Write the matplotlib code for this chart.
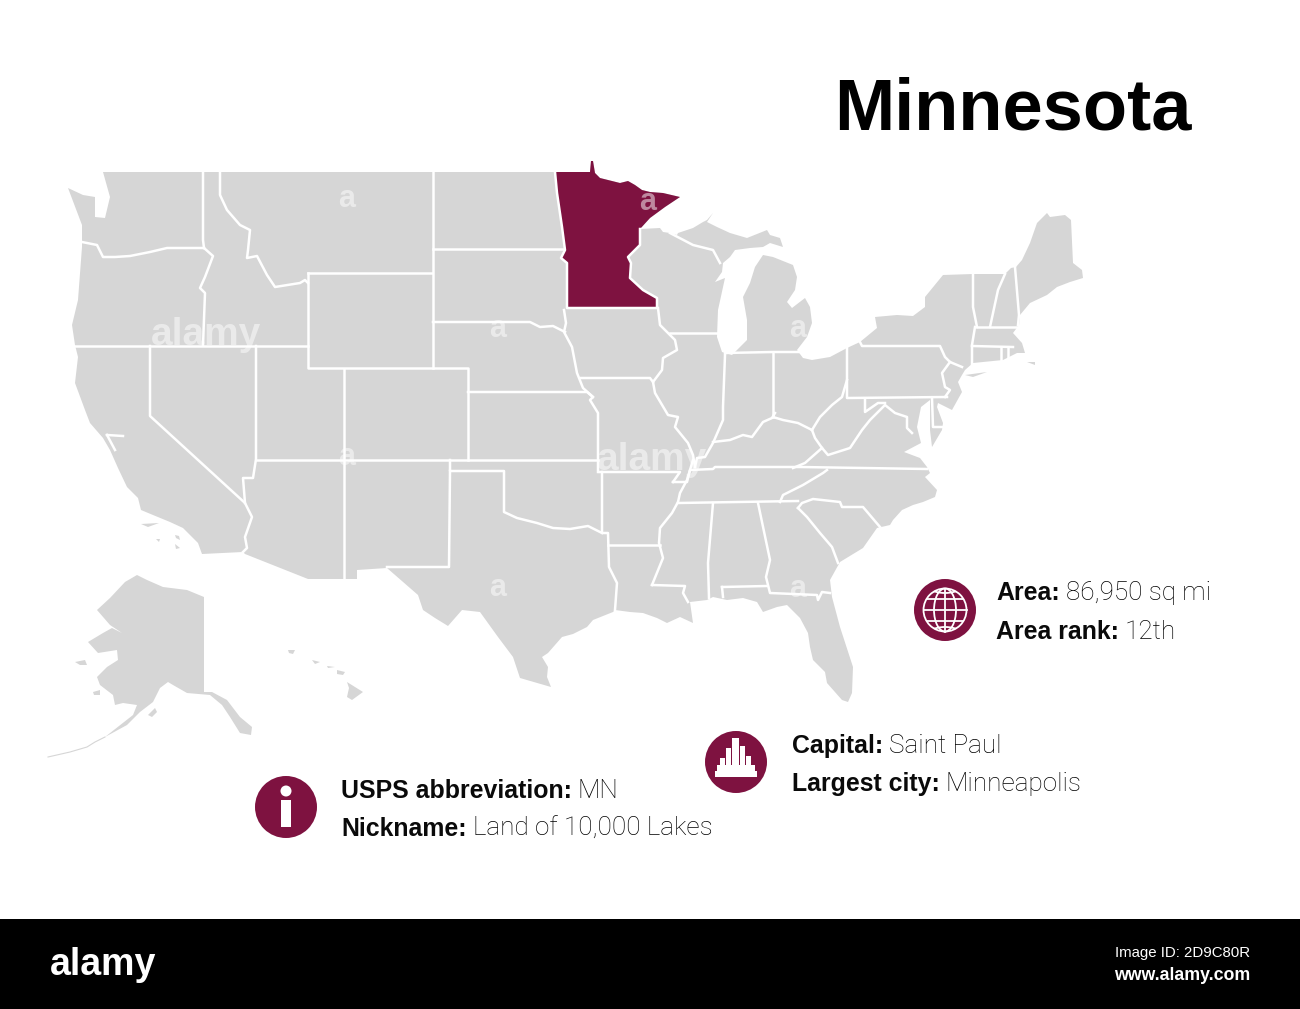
import matplotlib
matplotlib.use("Agg")
import matplotlib.pyplot as plt
from matplotlib.patches import Circle, Ellipse, Polygon, Rectangle

GRAY = "#d6d6d6"
MAROON = "#7e1240"

US_OUTLINE = [(103,172),(555,172),(590,172),(591,161),(593,161),(595,173),(600,178),(612,181),(620,183),(628,181),
 (635,185),(642,190),(650,192),(663,193),(680,197),(665,207),(650,218),(640,229),(660,228),(663,232),(670,233),(677,235),
 (678,233),(693,228),(703,222),(707,220),(713,213),(707,222),(717,227),(730,233),(747,238),(767,230),(770,235),(780,238),(783,247),
 (770,243),(763,247),(750,248),(735,250),(730,257),(723,263),(722,272),(715,282),(725,278),(718,310),(717,337),(722,352),
 (732,355),(747,340),(747,320),(743,297),(750,283),(755,267),(763,255),(773,257),(793,265),(797,277),(795,290),(787,302),(792,308),
 (805,298),(810,307),(812,323),(807,337),(797,350),(803,358),(812,360),(830,357),(847,348),(860,342),(877,328),(875,317),(897,315),
 (913,316),(925,307),(925,297),(943,275),(973,274),(1005,274),(1011,268),(1016,267),(1022,260),(1030,243),(1037,223),(1047,213),
 (1050,217),(1065,215),(1071,220),(1073,263),(1082,270),(1083,278),(1070,282),(1057,287),(1047,295),(1030,303),(1020,315),(1019,325),
 (1013,333),(1022,343),(1025,353),(1017,353),(1003,360),(973,363),(965,370),(962,375),(958,382),(962,392),(952,410),(938,403),(937,407),
 (943,423),(942,430),(932,447),(930,430),(930,400),(921,407),(917,427),(921,443),(904,452),(920,458),(927,467),(930,473),(925,477),
 (937,490),(935,497),(923,502),(913,505),(902,510),(893,520),(890,525),(877,528),(863,548),(840,562),(830,580),(832,597),(840,627),
 (853,667),(852,693),(848,702),(842,700),(827,683),(825,672),(813,660),(810,647),(808,633),(800,618),(787,605),(777,607),(763,612),
 (757,602),(743,598),(727,600),(713,597),(707,600),(690,602),(693,623),(680,617),(667,623),(657,618),(643,613),(630,612),(615,610),
 (613,612),(593,620),(587,627),(573,634),(562,637),(548,653),(542,657),(548,667),(547,677),(551,687),(520,678),(513,657),(498,637),
 (480,612),(462,610),(448,626),(435,618),(423,610),(418,595),(387,568),(357,570),(357,579),(308,579),(245,554),(243,552),(202,554),
 (198,543),(183,528),(170,522),(153,515),(141,510),(138,498),(127,487),(118,468),(110,450),(103,438),(90,423),(85,410),
 (75,383),(78,357),(75,345),(72,325),(78,300),(82,247),(82,225),(68,188),(83,195),(95,197),(95,217),(105,218),(110,197)]

MINNESOTA = [(555,172),(590,172),(591,161),(593,161),(595,173),(600,178),(612,181),(620,183),(628,181),(635,185),(642,190),
 (650,192),(663,193),(680,197),(665,207),(650,218),(640,229),(640,245),(628,257),(631,263),(630,278),(643,290),(657,298),(657,308),
 (567,308),(567,263),(561,258),(565,250),(562,227),(557,193)]

ISLANDS = [
 [(965,375),(987,372),(973,377)],
 [(1027,362),(1035,362),(1035,365)],
 [(141,524),(159,523),(148,527)],
 [(156,539),(160,539),(159,542)],
 [(175,535),(179,536),(180,540),(176,538)],
 [(175,544),(180,548),(176,549)],
 [(347,682),(363,692),(352,700),(347,697),(349,688)],
 [(337,670),(345,672),(343,675),(337,674)],
 [(327,666),(335,667),(328,668)],
 [(312,660),(320,662),(315,664)],
 [(288,650),(295,650),(293,654),(289,653)],
 [(75,662),(85,660),(87,665),(80,665)],
 [(148,715),(155,708),(157,712),(152,717)],
 [(93,692),(100,690),(100,695),(94,695)],
]

ALASKA = [(137,575),(147,580),(163,587),(187,590),(204,597),(204,692),(212,692),(227,700),(240,717),(252,727),(251,735),(240,733),
 (230,717),(222,705),(210,695),(187,693),(173,685),(168,682),(160,688),(153,702),(140,712),(127,725),(105,737),(133,715),(137,705),
 (123,703),(115,705),(113,695),(100,685),(97,677),(107,667),(118,660),(117,650),(98,653),(88,642),(103,633),(112,628),(122,633),
 (110,625),(97,610),(110,598),(125,582)]
ALEUTIANS = [(105,737),(95,742),(87,747),(70,752),(48,757)]

BORDERS = [
 [(203,172),(203,240),(204,248)],
 [(82,242),(97,245),(103,257),(115,257),(130,256),(150,252),(167,248),(204,248)],
 [(204,248),(213,256),(205,277),(200,288),(205,293),(203,345)],
 [(75,346),(308,346)],
 [(150,346),(150,416),(245,503),(252,517),(245,537),(247,548),(243,552)],
 [(245,503),(243,478),(253,478),(256,459),(256,346)],
 [(256,460),(598,460)],
 [(344,369),(344,579)],
 [(308,273),(432,273)],
 [(308,273),(308,368),(468,368),(468,460)],
 [(220,172),(220,195),(227,210),(240,225),(250,230),(248,250),(247,258),(257,256),(267,275),(275,287),(300,283),(305,280),(308,283)],
 [(433,172),(433,368)],
 [(433,249),(563,249)],
 [(433,322),(530,322),(540,327),(553,326),(565,332)],
 [(468,392),(587,392),(593,397),(590,400),(598,413),(598,472)],
 [(564,310),(566,323),(564,332),(572,347),(577,373),(583,388),(593,397)],
 [(580,378),(650,378),(653,382)],
 [(658,308),(660,325),(675,340),(677,350),(663,358),(662,370),(653,382),(655,393),(668,415),(678,417),(675,427),(688,443),(693,455),(695,467)],
 [(670,333),(718,333)],
 [(725,355),(723,407),(723,420),(713,443),(705,457),(697,458),(695,467)],
 [(713,442),(730,440),(743,435),(752,437),(763,422),(772,418),(775,413)],
 [(773,353),(773,417)],
 [(725,353),(773,352),(800,352)],
 [(773,417),(783,420),(798,423),(812,430)],
 [(812,430),(820,417),(832,405),(842,397),(847,380)],
 [(847,348),(847,398),(947,397)],
 [(860,342),(862,346),(940,346),(945,357),(950,362),(962,367)],
 [(950,362),(942,373),(945,387),(950,390),(945,397)],
 [(973,274),(973,307),(977,327)],
 [(975,327),(972,345),(972,365)],
 [(1005,274),(998,290),(990,327)],
 [(1015,267),(1019,315),(1018,325)],
 [(977,327),(1018,327)],
 [(972,346),(1013,347)],
 [(1001,347),(1001,360)],
 [(1008,347),(1008,358)],
 [(865,400),(865,412),(878,403),(885,403)],
 [(812,430),(815,438),(822,448),(828,455),(850,448),(862,430),(870,420),(880,410),(885,405),(895,413),(907,417),(907,428),(912,433)],
 [(822,448),(805,463),(793,468)],
 [(673,482),(687,482),(690,470),(713,469),(715,467),(800,467),(927,469)],
 [(693,460),(687,480),(680,493),(678,502),(672,513),(660,528),(659,543),(663,558),(652,585)],
 [(600,472),(680,472),(673,482)],
 [(602,472),(602,533),(608,533),(609,567),(617,583),(615,610)],
 [(608,545),(660,545)],
 [(450,460),(450,471),(504,471),(504,512),(517,518),(537,523),(553,528),(570,529),(588,526),(602,533)],
 [(450,471),(449,567),(387,567)],
 [(827,470),(823,473),(803,485),(783,495),(780,502)],
 [(678,503),(798,501)],
 [(798,508),(802,503),(813,499),(840,502),(842,507),(863,507),(880,527)],
 [(798,508),(807,517),(820,533),(832,547),(838,563)],
 [(713,503),(708,563),(709,598)],
 [(758,503),(770,560),(766,577),(770,593),(817,595),(818,600),(822,592),(830,593)],
 [(722,587),(767,586)],
 [(722,587),(723,597)],
 [(652,585),(685,586),(683,593),(688,602)],
 [(670,233),(693,245),(713,250),(720,263)],
 [(932,398),(933,427),(943,427)],
 [(107,435),(123,436)],
 [(107,435),(115,450)],
 [(555,172),(557,193),(562,227),(565,250),(561,258),(567,263),(567,308),(657,308),(657,298),(643,290),(630,278),(631,263),(628,257),(640,245),(640,229)],
]

TITLE = "Minnesota"
INFO = [
 ("Area:", "86,950 sq mi", 996, 600),
 ("Area rank:", "12th", 996, 639),
 ("Capital:", "Saint Paul", 792, 753),
 ("Largest city:", "Minneapolis", 792, 791),
 ("USPS abbreviation:", "MN", 341, 798),
 ("Nickname:", "Land of 10,000 Lakes", 341, 836),
]
MARK_WORD = "alamy"
MARK_BIG = [(206,345),(652,470)]
MARK_SMALL = [(347,207),(498,337),(347,465),(498,596),(648,210),(798,337),(798,597)]
SKYLINE = [(-21,9,42,6),(-19,3,38,7),(-16,-4,5,8),(-10,-14,5,18),(-4,-24,7,28),(4,-16,5,20),(10,-6,5,10)]

fig = plt.figure(figsize=(13.0,10.09), dpi=100, facecolor="white")
ax = fig.add_axes([0,0,1,1])
ax.set_xlim(0,1300); ax.set_ylim(1009,0); ax.axis("off")

ax.add_patch(Polygon(US_OUTLINE, closed=True, fc=GRAY, ec="none", zorder=1))
ax.add_patch(Polygon(ALASKA, closed=True, fc=GRAY, ec="none", zorder=1))
for isl in ISLANDS:
    ax.add_patch(Polygon(isl, closed=True, fc=GRAY, ec="none", zorder=1))
ax.plot(*zip(*ALEUTIANS), color=GRAY, lw=0.8, zorder=1)
ax.add_patch(Polygon(MINNESOTA, closed=True, fc=MAROON, ec="none", zorder=2))
for b in BORDERS:
    ax.plot(*zip(*b), color="white", lw=1.8, solid_joinstyle="round", zorder=3)

sans = "Liberation Sans"
for x,y in MARK_BIG:
    ax.text(x,y,MARK_WORD,ha="center",va="baseline",family=sans,weight="bold",fontsize=28,color="white",alpha=.5,zorder=4)
for x,y in MARK_SMALL:
    ax.text(x,y,"a",ha="center",va="baseline",family=sans,weight="bold",fontsize=22,color="white",alpha=.5,zorder=4)

ax.text(834,130,TITLE,family=sans,weight="bold",fontsize=52,color="black",va="baseline",ha="left",zorder=5)

fig.canvas.draw()
rend = fig.canvas.get_renderer()
for lab,val,x,y in INFO:
    t = ax.text(x,y,lab,family=sans,weight="bold",fontsize=17.9,color="#0a0a0a",va="baseline",ha="left",zorder=5)
    w = t.get_window_extent(rend).width
    ax.text(x+w+6,y,val,family="Roboto",weight="light",fontsize=18.8,color="black",va="baseline",ha="left",zorder=5)

# Icons
globe = Circle((945,610),21.5,fc="none",ec="white",lw=1.3,zorder=6)
ax.add_patch(Circle((945,610),31,fc=MAROON,ec="none",zorder=5))
ax.add_patch(Circle((736,762),31,fc=MAROON,ec="none",zorder=5))
ax.add_patch(Circle((286,807),31,fc=MAROON,ec="none",zorder=5))
ax.add_patch(globe)
gk = dict(fc="none",ec="white",lw=1.3,zorder=6)
ax.add_patch(Ellipse((945,610),22,43,**gk))
for cy in (579,641):
    e = Ellipse((945,cy),46,28,**gk)
    ax.add_patch(e)
    e.set_clip_path(globe)
ax.plot([945,945],[588.5,631.5],color="white",lw=1.3,zorder=6)
ax.plot([923.5,966.5],[610,610],color="white",lw=1.3,zorder=6)
ax.plot([927,963],[599,599],color="white",lw=1.3,zorder=6)
ax.plot([927,963],[621,621],color="white",lw=1.3,zorder=6)
for dx,dy,w,h in SKYLINE:
    ax.add_patch(Rectangle((736+dx,762+dy),w,h,fc="white",ec="none",zorder=6))
ax.add_patch(Circle((286,791),5.5,fc="white",ec="none",zorder=6))
ax.add_patch(Rectangle((281,800),10,27,fc="white",ec="none",zorder=6))

# Footer band
ax.add_patch(Rectangle((0,919),1300,90,fc="black",ec="none",zorder=7))
ax.text(50,975,MARK_WORD,family=sans,weight="bold",fontsize=27,color="white",va="baseline",ha="left",zorder=8)
ax.text(1250,957,"Image ID: 2D9C80R",family=sans,fontsize=10.8,color="white",va="baseline",ha="right",zorder=8)
ax.text(1250,980,"www.alamy.com",family=sans,weight="bold",fontsize=12.8,color="white",va="baseline",ha="right",zorder=8)

fig.savefig("out.png",dpi=100,facecolor="white")
